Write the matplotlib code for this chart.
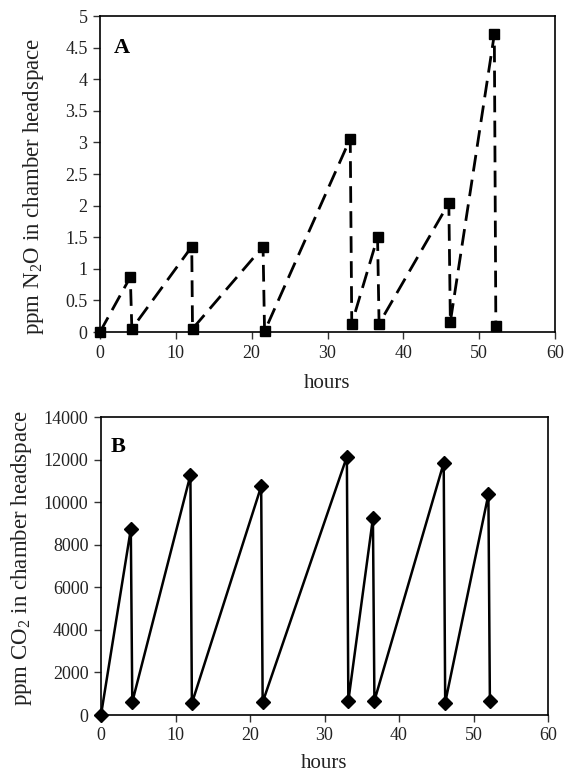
import matplotlib
matplotlib.use("Agg")
import matplotlib.pyplot as plt

plt.rcParams['font.family'] = ['Liberation Serif', 'DejaVu Serif']
plt.rcParams['mathtext.fontset'] = 'custom'
plt.rcParams['mathtext.rm'] = 'Liberation Serif'

hours_n2o = [0, 4.0, 4.2, 12.1, 12.2, 21.5, 21.7, 33.0, 33.2, 36.6, 36.8, 46.0, 46.2, 52.0, 52.2]
n2o = [0.0, 0.87, 0.05, 1.35, 0.05, 1.35, 0.01, 3.06, 0.13, 1.50, 0.13, 2.04, 0.16, 4.71, 0.10]

hours_co2 = [0, 4.0, 4.2, 12.0, 12.2, 21.5, 21.7, 33.0, 33.2, 36.5, 36.7, 46.0, 46.2, 52.0, 52.2]
co2 = [0, 8730, 610, 11270, 550, 10740, 600, 12130, 660, 9250, 670, 11840, 580, 10360, 640]

x_ticks = [0, 10, 20, 30, 40, 50, 60]
y_ticks_a = [0, 0.5, 1, 1.5, 2, 2.5, 3, 3.5, 4, 4.5, 5]
y_ticks_b = [0, 2000, 4000, 6000, 8000, 10000, 12000, 14000]

fig = plt.figure(figsize=(5.64, 7.75), dpi=100)
W, H = 564, 775
axA = fig.add_axes([100 / W, 1 - 332 / H, 455 / W, 316 / H])
axB = fig.add_axes([101 / W, 1 - 715 / H, 447 / W, 298 / H])

axA.plot(hours_n2o, n2o, color='black', lw=2, dashes=(6, 3), marker='s', ms=7,
         markerfacecolor='black', markeredgecolor='black', clip_on=False, zorder=3)
axB.plot(hours_co2, co2, color='black', lw=1.8, marker='D', ms=7,
         markerfacecolor='black', markeredgecolor='black', clip_on=False, zorder=3)

for ax, yt, lab, ylc, xlp in [(axA, y_ticks_a, 'ppm N$_2$O in chamber headspace', (-0.118, 0.462), 9),
                              (axB, y_ticks_b, 'ppm CO$_2$ in chamber headspace', (-0.150, 0.527), 7)]:
    ax.set_xlim(0, 60)
    ax.set_ylim(yt[0], yt[-1])
    ax.set_xticks(x_ticks)
    ax.set_yticks(yt)
    ax.set_yticklabels([f'{v:g}' for v in yt])
    ax.tick_params(direction='out', length=5, width=1, labelsize=13,
                   colors='#333333', labelcolor='#222222', pad=4)
    ax.set_xlabel('hours', fontsize=15, color='#222222', labelpad=xlp)
    ax.set_ylabel(lab, fontsize=16.5, color='#222222')
    ax.yaxis.set_label_coords(*ylc)
    for s in ax.spines.values():
        s.set_linewidth(1.2)

axA.text(0.03, 0.90, 'A', transform=axA.transAxes, fontsize=16, fontweight='bold', va='center')
axB.text(0.022, 0.90, 'B', transform=axB.transAxes, fontsize=16, fontweight='bold', va='center')

fig.savefig('out.png', dpi=100)
